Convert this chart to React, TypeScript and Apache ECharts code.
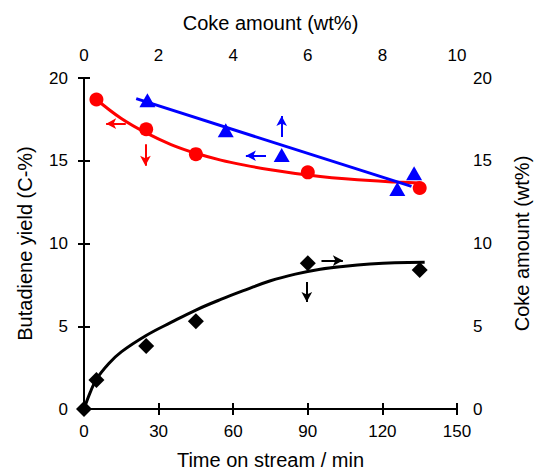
import React, { useEffect, useRef } from "react";
import * as echarts from "echarts";

// Butadiene yield vs time on stream (red circles)
const redTime = [5, 25, 45, 90, 135];
const redYield = [18.7, 16.9, 15.4, 14.3, 13.35];
// fitted curve through red points
const redFitTime = [5, 15, 25, 35, 45, 55, 65, 75, 85, 95, 105, 115, 125, 135];
const redFitYield = [18.7, 17.55, 16.68, 15.98, 15.45, 15.04, 14.72, 14.45, 14.23, 14.05, 13.91, 13.8, 13.72, 13.65];

// Butadiene yield vs coke amount (blue triangles, top axis)
const blueCoke = [1.7, 3.8, 5.3, 8.4, 8.85];
const blueYield = [18.65, 16.85, 15.35, 13.3, 14.25];
const blueLineCoke = [1.4, 8.78];
const blueLineYield = [18.75, 13.45];

// Coke amount vs time on stream (black diamonds, right axis)
const blackTime = [0, 5, 25, 45, 90, 135];
const blackCoke = [0, 1.75, 3.8, 5.3, 8.8, 8.4];
const blackFitTime = [0, 2.5, 5, 10, 15, 25, 35, 45, 55, 65, 75, 85, 95, 105, 115, 125, 137];
const blackFitCoke = [0, 1.0, 1.8, 2.75, 3.45, 4.44, 5.23, 5.98, 6.62, 7.2, 7.75, 8.15, 8.45, 8.63, 8.76, 8.84, 8.87];

// annotation arrows [x1, y1, x2, y2] (arrow head at second point)
const redArrows = [
  [16.8, 17.24, 8.9, 17.24],
  [24.7, 16.0, 24.7, 14.7],
];
// blue arrows in coke-amount (top axis) units
const blueArrows = [
  [4.88, 15.3, 4.34, 15.3],
  [5.3, 16.44, 5.3, 17.71],
];
const blackArrows = [
  [95.5, 8.97, 104.1, 8.97],
  [89.6, 7.68, 89.6, 6.47],
];

const FONT = "'Liberation Sans', Arial, Helvetica, sans-serif";
const W = 540;
const H = 475;

function zip(a: number[], b: number[]) {
  return a.map((v, i) => [v, b[i]]);
}

function arrowMark(arrows: number[][], color: string) {
  return {
    silent: true,
    symbol: ["none", "arrow"],
    symbolSize: [8, 10],
    label: { show: false },
    lineStyle: { color, width: 2, type: "solid", opacity: 1 },
    emphasis: { disabled: true },
    data: arrows.map((a) => [{ coord: [a[0], a[1]] }, { coord: [a[2], a[3]] }]),
  };
}

export default function App() {
  const ref = useRef<HTMLDivElement>(null);
  useEffect(() => {
    if (!ref.current) return;
    document.body.style.margin = "0";
    const chart = echarts.init(ref.current, null, { renderer: "svg", width: W, height: H });
    const axisCommon = {
      axisLine: { show: true, lineStyle: { color: "#000", width: 2 } },
      axisTick: { show: true, inside: false, length: 6, lineStyle: { color: "#000", width: 2 } },
      splitLine: { show: false },
      nameLocation: "middle" as const,
      nameTextStyle: { fontSize: 20, color: "#000", fontFamily: FONT },
    };
    chart.setOption({
      animation: false,
      backgroundColor: "#fff",
      grid: { left: 84, right: 75, top: 78, bottom: 58, containLabel: false },
      xAxis: [
        {
          ...axisCommon,
          type: "value",
          position: "bottom",
          min: 0,
          max: 150,
          interval: 30,
          name: "Time on stream / min",
          nameGap: 41,
          axisLabel: { fontSize: 17, color: "#000", fontFamily: FONT, margin: 14 },
        },
        {
          ...axisCommon,
          type: "value",
          position: "top",
          min: 0,
          max: 10,
          interval: 2,
          name: "Coke amount (wt%)",
          nameGap: 45,
          axisLabel: { fontSize: 17, color: "#000", fontFamily: FONT, margin: 14 },
        },
      ],
      yAxis: [
        {
          ...axisCommon,
          type: "value",
          position: "left",
          min: 0,
          max: 20,
          interval: 5,
          name: "Butadiene yield (C-%)",
          nameGap: 49,
          axisLabel: { fontSize: 17, color: "#000", fontFamily: FONT, margin: 16 },
        },
        {
          ...axisCommon,
          type: "value",
          position: "right",
          min: 0,
          max: 20,
          interval: 5,
          name: "Coke amount (wt%)",
          nameGap: 55,
          nameRotate: 90,
          axisLabel: { fontSize: 17, color: "#000", fontFamily: FONT, margin: 16 },
        },
      ],
      series: [
        {
          type: "line",
          xAxisIndex: 0,
          yAxisIndex: 1,
          data: zip(blackFitTime, blackFitCoke),
          smooth: 0.4,
          showSymbol: false,
          symbol: "none",
          lineStyle: { color: "#000", width: 3 },
          silent: true,
          z: 2,
        },
        {
          type: "line",
          xAxisIndex: 0,
          yAxisIndex: 0,
          data: zip(redFitTime, redFitYield),
          smooth: 0.4,
          showSymbol: false,
          symbol: "none",
          lineStyle: { color: "#ff0000", width: 3 },
          silent: true,
          z: 2,
        },
        {
          type: "line",
          xAxisIndex: 1,
          yAxisIndex: 0,
          data: zip(blueLineCoke, blueLineYield),
          showSymbol: false,
          symbol: "none",
          lineStyle: { color: "#0000ff", width: 3 },
          silent: true,
          z: 2,
        },
        {
          type: "scatter",
          xAxisIndex: 0,
          yAxisIndex: 0,
          data: zip(redTime, redYield),
          symbol: "circle",
          symbolSize: 14,
          itemStyle: { color: "#ff0000", opacity: 1 },
          markLine: arrowMark(redArrows, "#ff0000"),
          z: 3,
        },
        {
          type: "scatter",
          xAxisIndex: 1,
          yAxisIndex: 0,
          data: zip(blueCoke, blueYield),
          symbol: "triangle",
          symbolSize: [16, 14],
          itemStyle: { color: "#0000ff", opacity: 1 },
          markLine: arrowMark(blueArrows, "#0000ff"),
          z: 3,
        },
        {
          type: "scatter",
          xAxisIndex: 0,
          yAxisIndex: 1,
          data: zip(blackTime, blackCoke),
          symbol: "diamond",
          symbolSize: 16,
          itemStyle: { color: "#000", opacity: 1 },
          markLine: arrowMark(blackArrows, "#000"),
          clip: false,
          z: 3,
        },
      ],
    });
    return () => chart.dispose();
  }, []);
  return (
    <div
      ref={ref}
      style={{ position: "fixed", left: 0, top: 0, width: W, height: H, background: "#fff" }}
    />
  );
}
